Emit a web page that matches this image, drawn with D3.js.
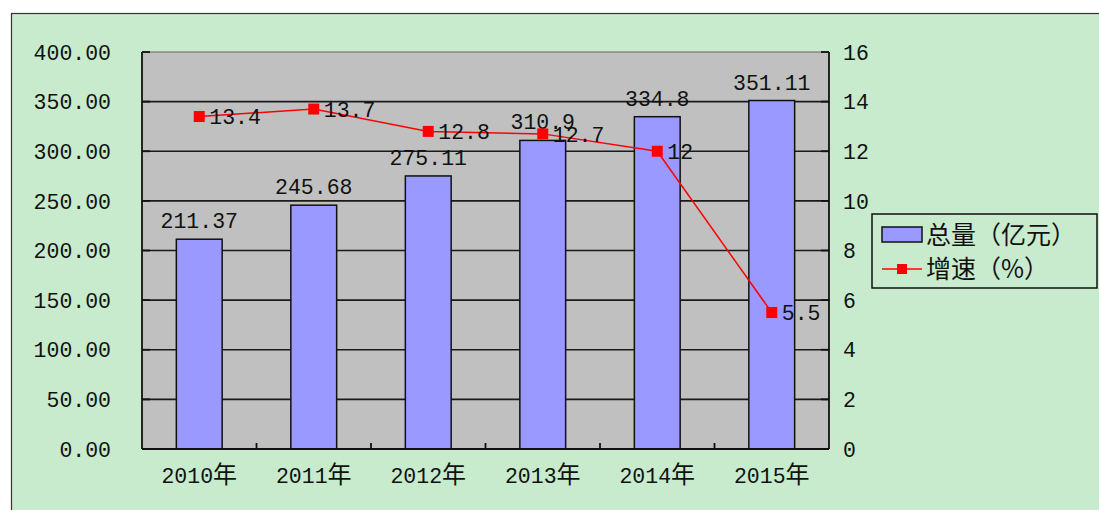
<!DOCTYPE html>
<html><head><meta charset="utf-8">
<script src="https://cdn.jsdelivr.net/npm/d3@7"></script>
<style>body{margin:0;background:#fff;overflow:hidden}</style>
</head><body><svg id="c" width="1099" height="510"></svg>
<script>
const categories=["2010年","2011年","2012年","2013年","2014年","2015年"];
const totals=[211.37,245.68,275.11,310.9,334.8,351.11];
const totalLabels=["211.37","245.68","275.11","310.9","334.8","351.11"];
const growth=[13.4,13.7,12.8,12.7,12,5.5];
const growthLabels=["13.4","13.7","12.8","12.7","12","5.5"];
const leftTicks=[0,50,100,150,200,250,300,350,400];
const rightTicks=[0,2,4,6,8,10,12,14,16];
const legendLabels=["总量（亿元）","增速（%）"];

const svg=d3.select("#c");
const FONT='"Liberation Mono","Noto Sans CJK SC",monospace';
const FS=21.5;
const X0=142,X1=829,Y0=52,Y1=449;

// outer frame
svg.append("rect").attr("x",11.5).attr("y",13.5).attr("width",1200).attr("height",600)
  .attr("fill","#C7EBCC").attr("stroke","#333").attr("stroke-width",1.2);

const x=d3.scaleBand().domain(categories).range([X0,X1]).paddingInner(0).paddingOuter(0);
const yL=d3.scaleLinear().domain([0,400]).range([Y1,Y0]);
const yR=d3.scaleLinear().domain([0,16]).range([Y1,Y0]);

// plot background
svg.append("rect").attr("x",X0).attr("y",Y0).attr("width",X1-X0).attr("height",Y1-Y0).attr("fill","#C0C0C0");

// gridlines
svg.append("g").selectAll("line").data(leftTicks.filter(d=>d>0)).join("line")
  .attr("x1",X0).attr("x2",X1).attr("y1",d=>yL(d)).attr("y2",d=>yL(d))
  .attr("stroke",d=>d===400?"#666":"#1a1a1a").attr("stroke-width",d=>d===400?1:1.6);

// bars
const bw=x.bandwidth()*0.4;
svg.append("g").selectAll("rect").data(totals).join("rect")
  .attr("x",(d,i)=>x(categories[i])+x.bandwidth()/2-bw/2)
  .attr("y",d=>yL(d)).attr("width",bw).attr("height",d=>Y1-yL(d))
  .attr("fill","#9999FF").attr("stroke","#111").attr("stroke-width",1.5);

// axes lines
const ax=svg.append("g").attr("stroke","#111").attr("stroke-width",1.8);
ax.append("line").attr("x1",X0).attr("x2",X0).attr("y1",Y0).attr("y2",Y1);
ax.append("line").attr("x1",X1).attr("x2",X1).attr("y1",Y0).attr("y2",Y1);
ax.append("line").attr("x1",X0).attr("x2",X1).attr("y1",Y1).attr("y2",Y1);
// inward ticks
ax.append("g").selectAll("line").data(leftTicks).join("line")
  .attr("x1",X0).attr("x2",X0+8).attr("y1",d=>yL(d)).attr("y2",d=>yL(d));
ax.append("g").selectAll("line").data(rightTicks).join("line")
  .attr("x1",X1-8).attr("x2",X1).attr("y1",d=>yR(d)).attr("y2",d=>yR(d));
ax.append("g").selectAll("line").data(categories.slice(1)).join("line")
  .attr("x1",d=>x(d)).attr("x2",d=>x(d)).attr("y1",Y1).attr("y2",Y1-6);

const txt=svg.append("g").attr("font-family",FONT).attr("font-size",FS).attr("fill","#111");
// left tick labels
txt.append("g").selectAll("text").data(leftTicks).join("text")
  .attr("x",111).attr("y",d=>yL(d)).attr("dy","0.36em").attr("text-anchor","end")
  .text(d3.format(".2f"));
// right tick labels
txt.append("g").selectAll("text").data(rightTicks).join("text")
  .attr("x",843).attr("y",d=>yR(d)).attr("dy","0.36em").attr("text-anchor","start")
  .text(d=>d);
// category labels (CJK suffix slightly larger, as in the reference font)
const cl=txt.append("g").selectAll("text").data(categories).join("text")
  .attr("x",d=>x(d)+x.bandwidth()/2).attr("y",475).attr("dy","0.36em").attr("text-anchor","middle");
cl.append("tspan").text(d=>d.replace(/[^0-9]/g,""));
cl.append("tspan").attr("font-size",24).text(d=>d.replace(/[0-9]/g,""));
// bar labels
txt.append("g").selectAll("text").data(totals).join("text")
  .attr("x",(d,i)=>x(categories[i])+x.bandwidth()/2).attr("y",d=>yL(d)-11)
  .attr("text-anchor","middle").text((d,i)=>totalLabels[i]);

// line
const cx=(i)=>x(categories[i])+x.bandwidth()/2;
svg.append("path").datum(growth)
  .attr("d",d3.line().x((d,i)=>cx(i)).y(d=>yR(d)))
  .attr("fill","none").attr("stroke","#FF0000").attr("stroke-width",1.5);
svg.append("g").selectAll("rect").data(growth).join("rect")
  .attr("x",(d,i)=>cx(i)-5.5).attr("y",d=>yR(d)-5.5).attr("width",11).attr("height",11)
  .attr("fill","#FF0000");
svg.append("g").attr("font-family",FONT).attr("font-size",FS).attr("fill","#111")
  .selectAll("text").data(growth).join("text")
  .attr("x",(d,i)=>cx(i)+10).attr("y",d=>yR(d)).attr("dy","0.36em")
  .text((d,i)=>growthLabels[i]);

// legend
const lg=svg.append("g");
lg.append("rect").attr("x",872).attr("y",214).attr("width",225).attr("height",74)
  .attr("fill","#C7EBCC").attr("stroke","#111").attr("stroke-width",1.5);
lg.append("rect").attr("x",882).attr("y",227).attr("width",40).attr("height",15)
  .attr("fill","#9999FF").attr("stroke","#111").attr("stroke-width",1.5);
lg.append("line").attr("x1",882).attr("x2",922).attr("y1",269).attr("y2",269)
  .attr("stroke","#FF0000").attr("stroke-width",1.5);
lg.append("rect").attr("x",897).attr("y",264).attr("width",10).attr("height",10).attr("fill","#FF0000");
lg.append("g").attr("font-family",'"Noto Sans CJK SC",sans-serif').attr("font-size",25).attr("fill","#111")
  .selectAll("text").data(legendLabels).join("text")
  .attr("x",926).attr("y",(d,i)=>i===0?235:269).attr("dy","0.36em").text(d=>d);
</script></body></html>
